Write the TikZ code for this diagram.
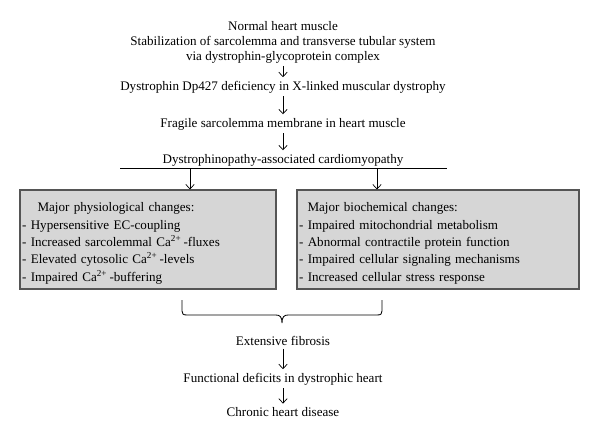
\documentclass[tikz,border=0pt]{standalone}
\usepackage{fontspec}
\setmainfont{Liberation Serif}
\usetikzlibrary{arrows.meta}
\definecolor{boxgray}{RGB}{214,214,214}
\definecolor{boxline}{RGB}{85,85,85}
\begin{document}
\begin{tikzpicture}[x=0.025cm,y=-0.025cm,
  every node/.style={font=\fontsize{9.3}{10.6}\selectfont},
  stage/.style={inner sep=1pt,align=center},
  changes/.style={draw=boxline,line width=0.9pt,fill=boxgray,inner xsep=1.5pt,
    align=left,font=\fontsize{9.3}{12.4}\selectfont},
  barb/.style={-{Straight Barb[length=3.2pt,width=6pt]},line width=0.5pt},
  flow/.style={barb,shorten >=1.5pt,shorten <=1pt}]
  \useasboundingbox (0,0) rectangle (600,441);
  % top of the cascade
  \node[stage] at (283,42) (normal) {Normal heart muscle\\Stabilization of sarcolemma and transverse tubular system\\via dystrophin-glycoprotein complex};
  \node[stage] at (283,87) (deficiency) {Dystrophin Dp427 deficiency in X-linked muscular dystrophy};
  \node[stage] at (283,124) (fragile) {Fragile sarcolemma membrane in heart muscle};
  \node[stage] at (283,160) (cardio) {Dystrophinopathy-associated cardiomyopathy};
  \draw[flow] (normal) -- (deficiency);
  \draw[flow] (deficiency) -- (fragile);
  \draw[flow] (fragile) -- (cardio);
  % split line
  \coordinate (lineL) at (120,168);
  \coordinate (lineR) at (447,168);
  \coordinate (splitL) at (190,168);
  \coordinate (splitR) at (377,168);
  \draw[line width=0.5pt] (lineL) -- (lineR);
  % the two boxes
  \node[changes,minimum width=6.4cm,minimum height=2.375cm,text width=6.4cm-3pt] at (148,239.5) (physio)
    {\rule{0pt}{12pt}\hspace*{11pt}Major physiological changes:\\
     - Hypersensitive EC-coupling\\
     - Increased sarcolemmal Ca\textsuperscript{2+}\,-fluxes\\
     - Elevated cytosolic Ca\textsuperscript{2+}\,-levels\\
     - Impaired Ca\textsuperscript{2+}\,-buffering};
  \node[changes,minimum width=7.05cm,minimum height=2.375cm,text width=7.05cm-3pt] at (438,239.5) (biochem)
    {\rule{0pt}{12pt}\hspace*{6pt}Major biochemical changes:\\
     - Impaired mitochondrial metabolism\\
     - Abnormal contractile protein function\\
     - Impaired cellular signaling mechanisms\\
     - Increased cellular stress response};
  \draw[barb] (splitL) -- (splitL |- physio.north);
  \draw[barb] (splitR) -- (splitR |- biochem.north);
  % brace and the end of the cascade
  \coordinate (braceL) at (182,300);
  \coordinate (braceR) at (382,300);
  \coordinate (braceTip) at (282,323);
  \draw[line width=0.6pt] (braceL) -- (182,311) .. controls (182,314) and (183,315) .. (187,315)
    -- (276,315) .. controls (280,315) and (282,317) .. (braceTip)
    .. controls (282,317) and (284,315) .. (288,315) -- (377,315)
    .. controls (381,315) and (382,314) .. (382,311) -- (braceR);
  \node[stage] at (283,341) (fibrosis) {Extensive fibrosis};
  \node[stage] at (283,379) (deficits) {Functional deficits in dystrophic heart};
  \node[stage] at (283,412) (chronic) {Chronic heart disease};
  \draw[flow] (fibrosis) -- (deficits);
  \draw[flow] (deficits) -- (chronic);
\end{tikzpicture}
\end{document}
